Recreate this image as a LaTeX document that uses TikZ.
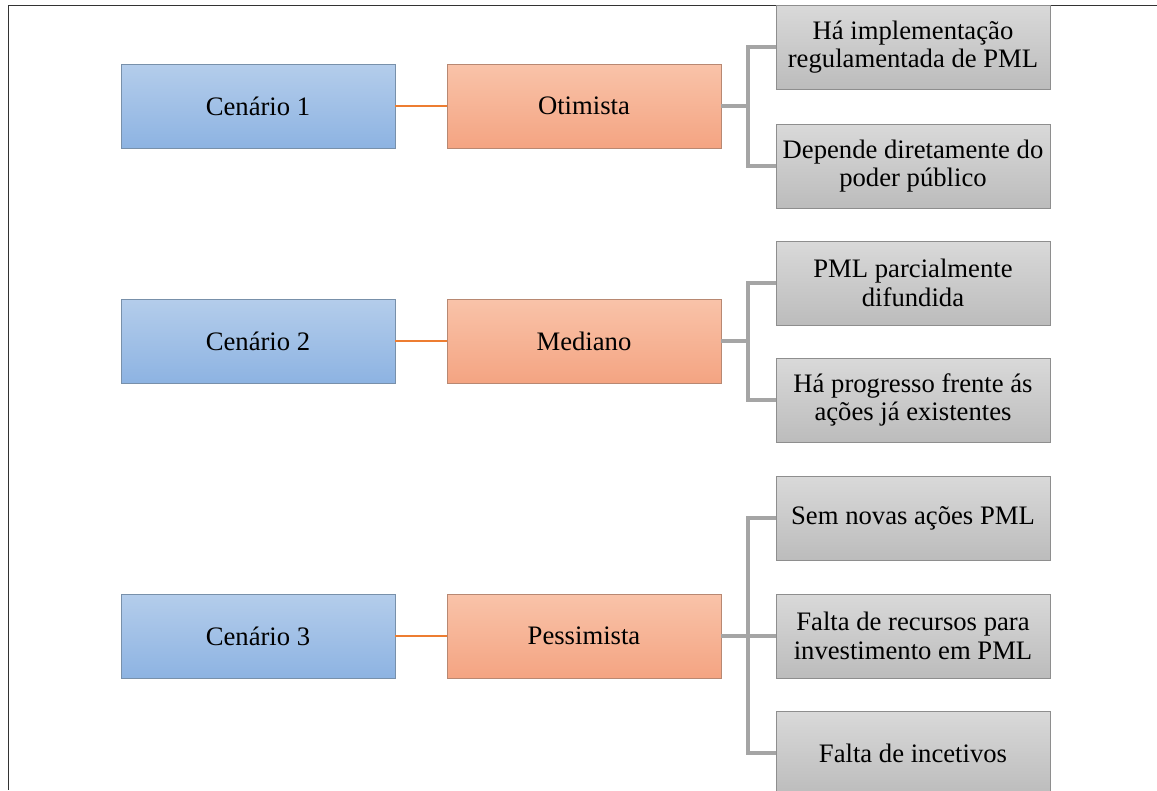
\documentclass[tikz,border=0pt]{standalone}
\usepackage{fontspec}
\setmainfont{Liberation Serif}
\newfontfamily\cenafont{Liberation Serif}
\usepackage{tikz}
\definecolor{azulTopo}{HTML}{B4CDEB}
\definecolor{azulBase}{HTML}{8DB3E2}
\definecolor{azulBorda}{HTML}{7890AA}
\definecolor{lrjTopo}{HTML}{F9C3A9}
\definecolor{lrjBase}{HTML}{F4A482}
\definecolor{lrjBorda}{HTML}{B88872}
\definecolor{lrjLinha}{HTML}{ED7D31}
\definecolor{cinzaTopo}{HTML}{D9D9D9}
\definecolor{cinzaBase}{HTML}{BCBCBC}
\definecolor{cinzaBorda}{HTML}{8E8E8E}
\definecolor{cinzaLinha}{HTML}{A5A5A5}

\begin{document}
\begin{tikzpicture}[x=0.75pt, y=-0.75pt,
    every node/.style={font=\cenafont\fontsize{20}{21.5}\selectfont, align=center,
        minimum width=205.5pt, minimum height=63pt, line width=0.6pt},
    cenario/.style={draw=azulBorda, top color=azulTopo, bottom color=azulBase},
    tipo/.style={draw=lrjBorda, top color=lrjTopo, bottom color=lrjBase},
    fator/.style={draw=cinzaBorda, top color=cinzaTopo, bottom color=cinzaBase},
    laranja/.style={draw=lrjLinha, line width=2pt},
    cinza/.style={draw=cinzaLinha, line width=2.6pt}]
    \useasboundingbox (0, 0) rectangle (1157, 790);
    \draw[line width=0.75pt, black!80] (1157, 5) -- (8, 5) -- (8, 790);

    \node[cenario] (c1) at (258, 106) {Cenário 1};
    \node[cenario] (c2) at (258, 341) {Cenário 2};
    \node[cenario] (c3) at (258, 636) {Cenário 3};

    \node[tipo] (s1) at (584, 106) {Otimista};
    \node[tipo] (s2) at (584, 341) {Mediano};
    \node[tipo] (s3) at (584, 636) {Pessimista};

    \node[fator] (g1) at (913, 47) {Há implementação\\regulamentada de PML};
    \node[fator] (g2) at (913, 166) {Depende diretamente do\\poder público};
    \node[fator] (g3) at (913, 283) {PML parcialmente\\difundida};
    \node[fator] (g4) at (913, 400) {Há progresso frente ás\\ações já existentes};
    \node[fator] (g5) at (913, 518) {Sem novas ações PML};
    \node[fator] (g6) at (913, 636) {Falta de recursos para\\investimento em PML};
    \node[fator] (g7) at (913, 753) {Falta de incetivos};

    \coordinate (t1) at (748, 106);
    \coordinate (t2) at (748, 341);
    \coordinate (t3) at (748, 636);

    \draw[laranja] (c1) -- (s1);
    \draw[laranja] (c2) -- (s2);
    \draw[laranja] (c3) -- (s3);

    \draw[cinza] (s1.east) -- (t1);
    \draw[cinza] (g1.west) -| (t1) |- (g2.west);
    \draw[cinza] (s2.east) -- (t2);
    \draw[cinza] (g3.west) -| (t2) |- (g4.west);
    \draw[cinza] (s3.east) -- (t3) -- (g6.west);
    \draw[cinza] (g5.west) -| (t3) |- (g7.west);
\end{tikzpicture}
\end{document}
